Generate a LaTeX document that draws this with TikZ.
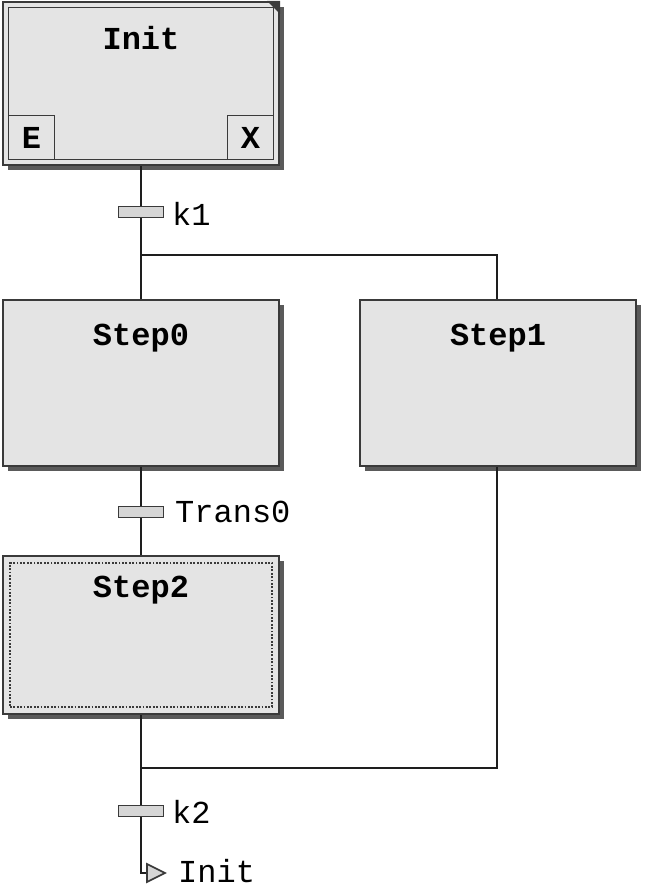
\documentclass[tikz,border=0pt]{standalone}
\usepackage{fontspec}
\newfontfamily\monofont{Liberation Mono}
\usetikzlibrary{shadows}
\definecolor{boxfill}{HTML}{E4E4E4}
\definecolor{boxline}{HTML}{3A3A3A}
\definecolor{shadowcol}{HTML}{5A5A5A}
\definecolor{wirecol}{HTML}{1E1E1E}
\definecolor{barfill}{HTML}{D6D6D6}
\tikzset{
  stepbox/.style={draw=boxline, line width=2.2pt, fill=boxfill, inner sep=0pt,
    drop shadow={shadow xshift=5pt, shadow yshift=-5pt, fill=shadowcol, opacity=1}},
  title/.style={font=\monofont\bfseries\fontsize{32}{36}\selectfont, text=black, inner sep=0pt},
  lbl/.style={font=\monofont\fontsize{32}{36}\selectfont, text=black, inner sep=0pt, anchor=west},
  bar/.style={draw=boxline, line width=1.8pt, fill=barfill, minimum width=45pt, minimum height=11pt, inner sep=0pt},
  wire/.style={draw=wirecol, line width=2.4pt},
  innerline/.style={draw=boxline, line width=1.6pt},
}
\begin{document}
\begin{tikzpicture}[x=1pt,y=-1pt]
\useasboundingbox (0,0) rectangle (646,890);
% Init step
\node[stepbox, minimum width=276pt, minimum height=163pt] (init) at (141,83.5) {};
\node[innerline, draw, minimum width=265pt, minimum height=152pt, inner sep=0pt] (initin) at (141,83.5) {};
\node[innerline, draw, anchor=south west, minimum width=46pt, minimum height=44pt, inner sep=0pt] (ebox) at (initin.south west) {};
\node[innerline, draw, anchor=south east, minimum width=46pt, minimum height=44pt, inner sep=0pt] (xbox) at (initin.south east) {};
\node[title] (etext) at (ebox.center) {E};
\node[title] (xtext) at (xbox.center) {X};
\node[title] (inittitle) at (141,38) {Init};
\fill[boxline] ([xshift=-13pt]init.north east) -- (init.north east) -- ([yshift=-13pt]init.north east) -- cycle;
% Step0, Step1, Step2
\node[stepbox, minimum width=276pt, minimum height=166pt] (s0) at (141,383) {};
\node[title] (s0t) at (141,338) {Step0};
\node[stepbox, minimum width=276pt, minimum height=166pt] (s1) at (498,383) {};
\node[title] (s1t) at (498,338) {Step1};
\node[stepbox, minimum width=276pt, minimum height=158pt] (s2) at (141,635) {};
\node[draw=boxline, line width=1.8pt, dash pattern=on 1.8pt off 1.6pt, minimum width=262pt, minimum height=144pt, inner sep=0pt] (s2in) at (141,635) {};
\node[title] (s2t) at (141,590) {Step2};
% junctions
\coordinate (j1) at (141,255);
\coordinate (j1r) at (497,255);
\coordinate (j2) at (141,768);
\coordinate (j2r) at (497,768);
\coordinate (bend) at (141,873);
\coordinate (tipin) at (147,873);
\draw[wire] (init.south) -- (j1);
\draw[wire] (j1) -- (s0.north);
\draw[wire] (j1) -- (j1r) -- (s1.north -| j1r);
\draw[wire] (s0.south) -- (s2.north);
\draw[wire] (s2.south) -- (j2);
\draw[wire] (s1.south -| j2r) -- (j2r) -- (j2);
\draw[wire] (j2) -- (bend) -- (tipin);
% transitions
\node[bar] (t1) at (141,212) {};
\node[bar] (t2) at (141,512) {};
\node[bar] (t3) at (141,811) {};
\node[lbl] (t1l) at (172,214) {k1};
\node[lbl] (t2l) at (175,512) {Trans0};
\node[lbl] (t3l) at (172,812) {k2};
\filldraw[draw=boxline, line width=1.6pt, fill=barfill] (147,864) -- (165,873) -- (147,882) -- cycle;
\node[lbl] (endl) at (178,871) {Init};
\end{tikzpicture}
\end{document}
